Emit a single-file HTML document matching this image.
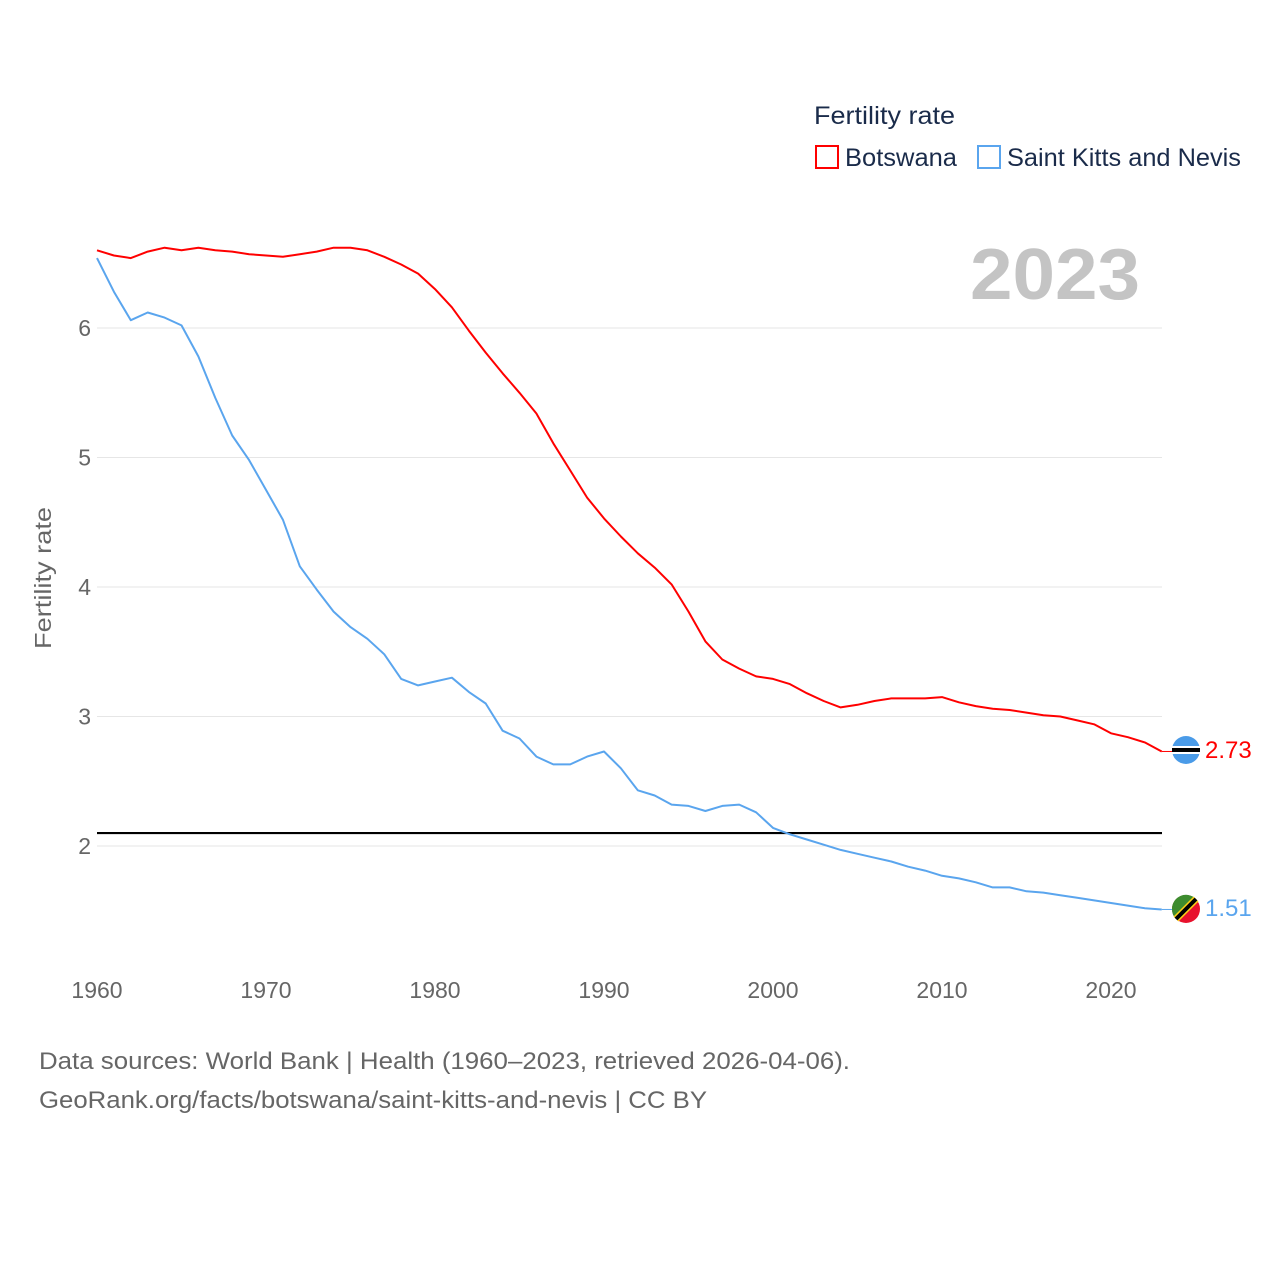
<!DOCTYPE html>
<html><head><meta charset="utf-8">
<style>
html,body{margin:0;padding:0;background:#fff;}
svg{display:block;font-family:"Liberation Sans",sans-serif;}
</style></head>
<body>
<svg id="chart" width="1280" height="1280" viewBox="0 0 1280 1280" xmlns="http://www.w3.org/2000/svg">
  <g>
    <text x="814" y="124" font-size="25" fill="#1a2b4a" textLength="141" lengthAdjust="spacingAndGlyphs">Fertility rate</text>
    <rect x="816" y="146" width="22" height="22" fill="none" stroke="#f00" stroke-width="2"/>
    <text x="845" y="166" font-size="25" fill="#1a2b4a" textLength="112" lengthAdjust="spacingAndGlyphs">Botswana</text>
    <rect x="978" y="146" width="22" height="22" fill="none" stroke="#5aa5ee" stroke-width="2"/>
    <text x="1007" y="166" font-size="25" fill="#1a2b4a" textLength="234" lengthAdjust="spacingAndGlyphs">Saint Kitts and Nevis</text>
  </g>
  <text x="1140" y="299" font-size="72" font-weight="bold" fill="#c4c4c4" text-anchor="end" textLength="170" lengthAdjust="spacingAndGlyphs">2023</text>
  <text transform="translate(51,578) rotate(-90)" font-size="23" fill="#666" text-anchor="middle" textLength="142" lengthAdjust="spacingAndGlyphs">Fertility rate</text>
  <g id="grid"></g>
  <g id="series"></g>
  <g>
    <circle cx="1186" cy="750" r="14" fill="#4a9be8"/>
    <rect x="1172" y="746" width="28" height="8" fill="#fff"/>
    <rect x="1172" y="748" width="28" height="4" fill="#000"/>
    <circle cx="1186" cy="909" r="14" fill="#e8112d"/>
    <path d="M1172,909 A14,14 0 0 1 1196,899 L1176,919 A14,14 0 0 1 1172,909Z" fill="#3d8c2f"/>
    <line x1="1176" y1="919" x2="1196" y2="899" stroke="#fcd116" stroke-width="7"/>
    <line x1="1176" y1="919" x2="1196" y2="899" stroke="#000" stroke-width="4"/>
    <text x="1205" y="758" font-size="24" fill="#f00">2.73</text>
    <text x="1205" y="916" font-size="24" fill="#5aa5ee">1.51</text>
  </g>
  <text x="39" y="1069" font-size="24" fill="#666" textLength="811" lengthAdjust="spacingAndGlyphs">Data sources: World Bank | Health (1960–2023, retrieved 2026-04-06).</text>
  <text x="39" y="1108" font-size="24" fill="#666" textLength="668" lengthAdjust="spacingAndGlyphs">GeoRank.org/facts/botswana/saint-kitts-and-nevis | CC BY</text>
</svg>
<script>
const startYear = 1960;
const xTicks = [1960,1970,1980,1990,2000,2010,2020];
const yTicks = [2,3,4,5,6];
const replacementRate = 2.1;
const botswana = [6.60,6.56,6.54,6.59,6.62,6.60,6.62,6.60,6.59,6.57,6.56,6.55,6.57,6.59,6.62,6.62,6.60,6.55,6.49,6.42,6.30,6.16,5.98,5.81,5.65,5.50,5.34,5.11,4.90,4.69,4.53,4.39,4.26,4.15,4.02,3.81,3.58,3.44,3.37,3.31,3.29,3.25,3.18,3.12,3.07,3.09,3.12,3.14,3.14,3.14,3.15,3.11,3.08,3.06,3.05,3.03,3.01,3.00,2.97,2.94,2.87,2.84,2.80,2.73];
const skn = [6.54,6.28,6.06,6.12,6.08,6.02,5.78,5.46,5.17,4.98,4.75,4.52,4.16,3.98,3.81,3.69,3.60,3.48,3.29,3.24,3.27,3.30,3.19,3.10,2.89,2.83,2.69,2.63,2.63,2.69,2.73,2.60,2.43,2.39,2.32,2.31,2.27,2.31,2.32,2.26,2.14,2.09,2.05,2.01,1.97,1.94,1.91,1.88,1.84,1.81,1.77,1.75,1.72,1.68,1.68,1.65,1.64,1.62,1.60,1.58,1.56,1.54,1.52,1.51];

const NS = "http://www.w3.org/2000/svg";
const xs = y => 97 + (y - 1960) * (1111 - 97) / 60;
const ys = v => 846 - (v - 2) * (846 - 328) / 4;
const grid = document.getElementById('grid');
const series = document.getElementById('series');
function mk(tag, attrs, parent){const e=document.createElementNS(NS,tag);for(const k in attrs)e.setAttribute(k,attrs[k]);parent.appendChild(e);return e;}

yTicks.forEach(t=>{
  const l = mk('line',{x1:97,x2:1162,y1:ys(t),y2:ys(t),stroke:'#e6e6e6','stroke-width':1},grid);
  
  
  const tx = mk('text',{x:91,y:ys(t)+8,'font-size':23,fill:'#666','text-anchor':'end'},grid);
  tx.textContent = t;
  
  
});
xTicks.forEach(t=>{
  const tx = mk('text',{x:xs(t),y:998,'font-size':23,fill:'#666','text-anchor':'middle'},grid);
  tx.textContent = t;
  
  
});
const ref = mk('line',{x1:97,x2:1162,y1:ys(replacementRate),y2:ys(replacementRate),stroke:'#000','stroke-width':2.2},series);



function line(data,color,name){
  const d = data.map((v,i)=>(i?'L':'M')+xs(startYear+i).toFixed(1)+','+ys(v).toFixed(1)).join(' ');
  const p = mk('path',{d:d,fill:'none',stroke:color,'stroke-width':2,'stroke-linejoin':'round'},series);
  
  
  const last = data[data.length-1];
  const c = mk('line',{x1:xs(startYear+data.length-1),x2:1172,y1:ys(last),y2:ys(last),stroke:color,'stroke-width':1},series);
  
  
}
line(botswana,'#f00','botswana-line');
line(skn,'#5aa5ee','skn-line');
</script>
</body></html>
